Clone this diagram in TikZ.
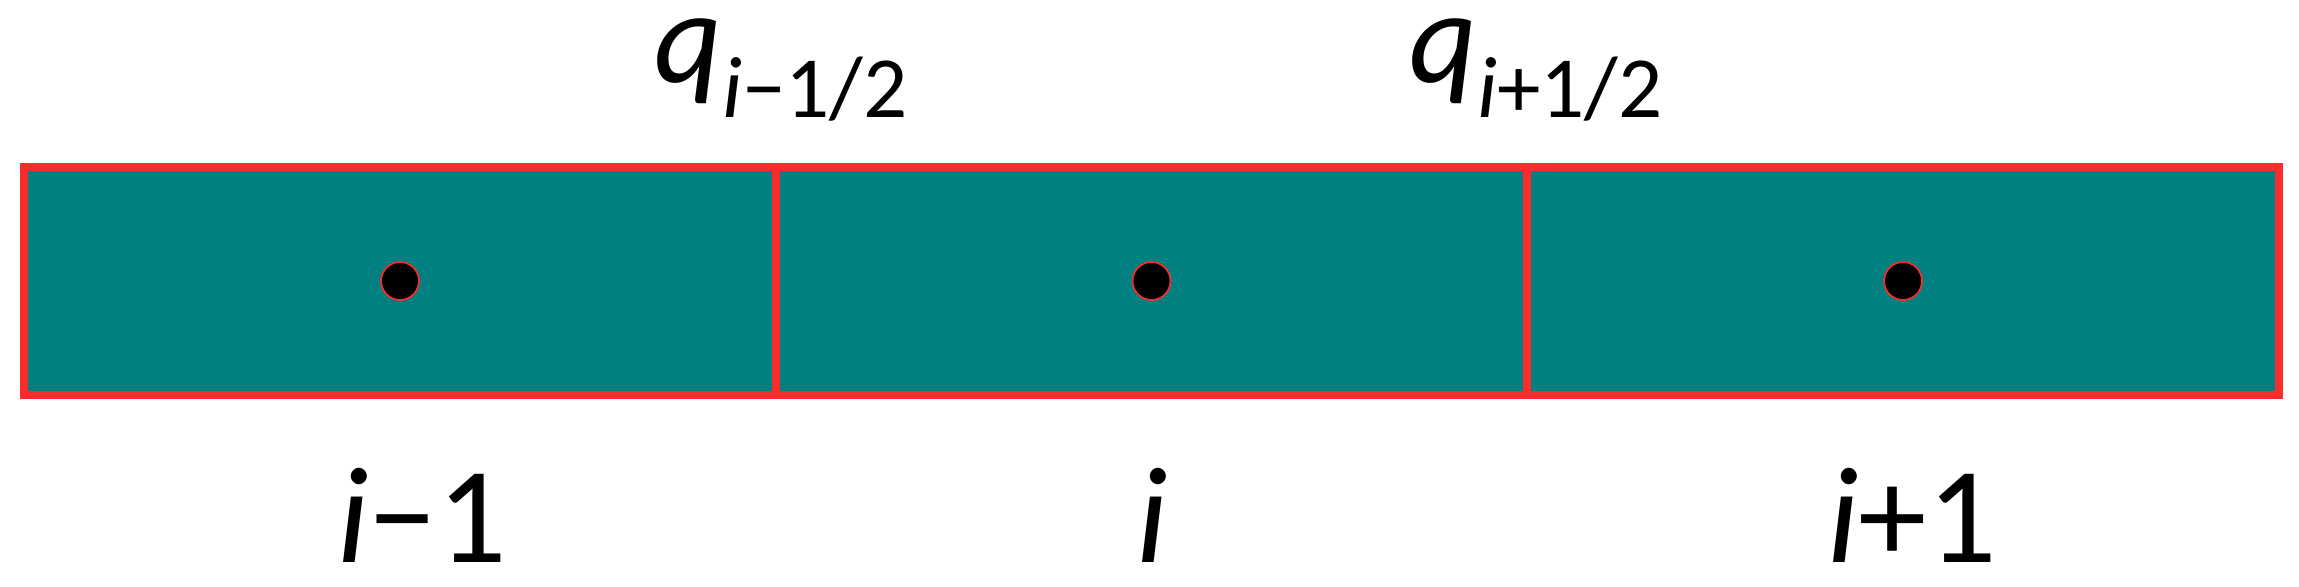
\documentclass[tikz,border=0pt]{standalone}
\usepackage{fontspec}
\setmainfont{Carlito}
\usepackage{tikz}
\usepackage{xcolor}
\definecolor{cellfill}{RGB}{0,128,128}
\definecolor{cellred}{RGB}{250,45,45}

\begin{document}
\begin{tikzpicture}[
    cell/.style={draw=cellred, fill=cellfill, line width=2.3pt, minimum width=7.515cm, minimum height=2.28cm, inner sep=0pt},
    lbl/.style={inner sep=3pt, anchor=base, font=\fontsize{39}{42}\selectfont},
    flux/.style={inner sep=3pt, anchor=base west}
]
    \useasboundingbox (0,0) rectangle (22.99,-5.87);

    % Draw the three cells
    \node[cell] (c1) at (4.00,-2.81) {};
    \node[cell] (c2) at (11.515,-2.81) {};
    \node[cell] (c3) at (19.03,-2.81) {};

    % Mark the cell centres
    \filldraw[fill=black, draw=cellred, line width=0.5pt] (c1.center) circle (0.19);
    \filldraw[fill=black, draw=cellred, line width=0.5pt] (c2.center) circle (0.19);
    \filldraw[fill=black, draw=cellred, line width=0.5pt] (c3.center) circle (0.19);

    % Fluxes at the cell faces
    \node[flux] (qm) at (6.43,-0.83) {{\fontsize{37.5}{40}\selectfont\itshape q}\raisebox{-0.35cm}{\fontsize{24.8}{28}\selectfont\itshape i\upshape −1/2}};
    \node[flux] (qp) at (13.98,-0.83) {{\fontsize{37.5}{40}\selectfont\itshape q}\raisebox{-0.35cm}{\fontsize{24.8}{28}\selectfont\itshape i\upshape +1/2}};

    % Cell indices
    \node[lbl] (im) at (4.22,-5.62) {\itshape i\upshape −1};
    \node[lbl] (i) at (11.52,-5.62) {\itshape i};
    \node[lbl] (ip) at (19.12,-5.62) {\itshape i\upshape +1};

\end{tikzpicture}
\end{document}
